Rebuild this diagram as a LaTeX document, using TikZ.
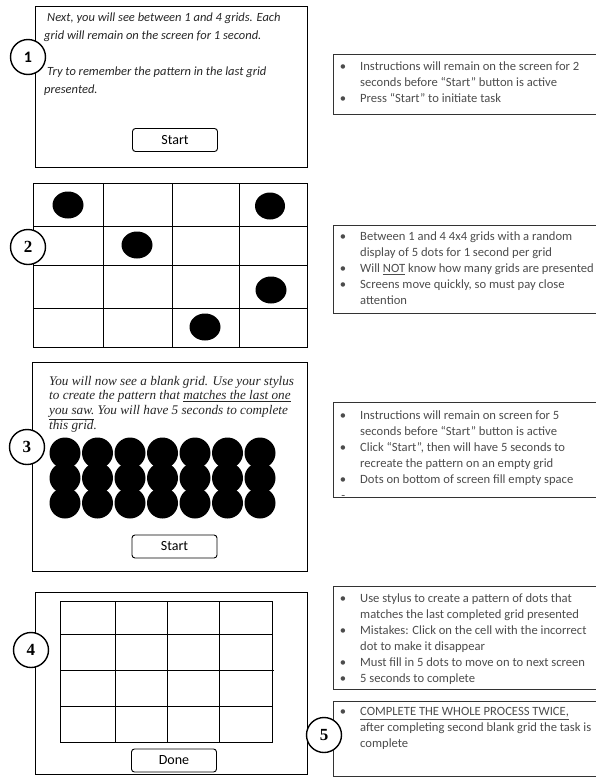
\documentclass[tikz,border=0pt]{standalone}
\usepackage{fontspec}
\setmainfont{Carlito}
\newfontfamily\cambria{Liberation Serif}

\tikzset{
  panel/.style={draw, line width=1pt},
  notebox/.style={draw=black!80, line width=0.9pt},
  screentext/.style={anchor=north west, inner sep=0pt, align=left, text=black!85},
  notetext/.style={anchor=north west, inner sep=0pt, align=left, text=black!70,
    font=\fontsize{12.6}{16}\selectfont},
  button/.style={draw, rounded corners=3pt, line width=0.9pt, minimum width=85pt,
    minimum height=23pt, inner sep=0pt, font=\fontsize{14}{16}\selectfont},
  numcircle/.style={draw, circle, line width=1.4pt, fill=white, minimum size=35pt,
    inner sep=0pt, font=\cambria\bfseries\fontsize{17}{18}\selectfont},
  gridline/.style={line width=1pt},
}

\begin{document}
\begin{tikzpicture}[x=1pt, y=-1pt]
    \useasboundingbox (0,0) rectangle (595,777);

    % Screen 1: instructions
    \draw[panel] (35,6) rectangle (307,167);
    \node[screentext, font=\itshape\fontsize{12.5}{18}\selectfont] (introtext) at (44,12.5)
      {\hspace{3pt}Next, you will see between 1 and 4 grids. Each\\
       grid will remain on the screen for 1 second.\\[18pt]
       \hspace{3pt}Try to remember the pattern in the last grid\\
       presented.};
    \node[button] (startone) at (175,140) {Start};
    \node[numcircle, font=\bfseries\fontsize{16}{18}\selectfont] (stepone) at (28,57) {1};

    \draw[notebox] (333,54) rectangle (600,114);
    \node[notetext] (noteone) at (360,61.5)
      {\llap{\textbullet\hspace{14pt}}Instructions will remain on the screen for 2\\
       seconds before ``Start'' button is active\\
       \llap{\textbullet\hspace{14pt}}Press ``Start'' to initiate task};

    % Screen 2: grid with dots
    \draw[gridline] (33,183) rectangle (307,347);
    \draw[gridline] (103,183) -- (103,347);
    \draw[gridline] (172,183) -- (172,347);
    \draw[gridline] (239,183) -- (239,347);
    \draw[gridline] (33,226) -- (307,226);
    \draw[gridline] (33,265) -- (307,265);
    \draw[gridline] (33,308) -- (307,308);
    \fill (68,205) ellipse (15.5 and 13.5);
    \fill (270,206) ellipse (15 and 13.5);
    \fill (137,245) ellipse (15.5 and 13.5);
    \fill (271,290) ellipse (15.5 and 13.5);
    \fill (205,327) ellipse (15.5 and 13.5);
    \node[numcircle] (steptwo) at (28,247) {2};

    \draw[notebox] (333,225) rectangle (600,313);
    \node[notetext] (notetwo) at (360,231.5)
      {\llap{\textbullet\hspace{14pt}}Between 1 and 4 4x4 grids with a random\\
       display of 5 dots for 1 second per grid\\
       \llap{\textbullet\hspace{14pt}}Will \underline{NOT} know how many grids are presented\\
       \llap{\textbullet\hspace{14pt}}Screens move quickly, so must pay close\\
       attention};

    % Screen 3: blank grid instructions
    \draw[panel] (32,362) rectangle (307,571);
    \node[screentext, font=\cambria\itshape\fontsize{13.2}{14.6}\selectfont] (recalltext) at (49,376)
      {You will now see a blank grid. Use your stylus\\
       to create the pattern that \underline{matches the last one}\\
       \underline{you saw.} You will have 5 seconds to complete\\
       this grid.};
    \fill (65,453) circle (15.5) (97.5,453) circle (15.5) (130,453) circle (15.5)
      (162.5,453) circle (15.5) (195,453) circle (15.5) (227.5,453) circle (15.5)
      (260,453) circle (15.5);
    \fill (65,478) circle (15.5) (97.5,478) circle (15.5) (130,478) circle (15.5)
      (162.5,478) circle (15.5) (195,478) circle (15.5) (227.5,478) circle (15.5)
      (260,478) circle (15.5);
    \fill (65,503) circle (15.5) (97.5,503) circle (15.5) (130,503) circle (15.5)
      (162.5,503) circle (15.5) (195,503) circle (15.5) (227.5,503) circle (15.5)
      (260,503) circle (15.5);
    \node[button] (starttwo) at (174.5,546.5) {Start};
    \node[numcircle] (stepthree) at (27,447) {3};

    \draw[notebox] (333,402) rectangle (600,497);
    \node[notetext] (notethree) at (360,410.5)
      {\llap{\textbullet\hspace{14pt}}Instructions will remain on screen for 5\\
       seconds before ``Start'' button is active\\
       \llap{\textbullet\hspace{14pt}}Click ``Start'', then will have 5 seconds to\\
       recreate the pattern on an empty grid\\
       \llap{\textbullet\hspace{14pt}}Dots on bottom of screen fill empty space\\
       \llap{-\hspace{15pt}}};

    % Screen 4: empty grid
    \draw[panel] (35,592) rectangle (307,774);
    \draw[gridline] (60,601) rectangle (272,742);
    \draw[gridline] (115,601) -- (115,742);
    \draw[gridline] (167,601) -- (167,742);
    \draw[gridline] (219,601) -- (219,742);
    \draw[gridline] (60,634) -- (272,634);
    \draw[gridline] (60,670) -- (274,670);
    \draw[gridline] (60,706) -- (272,706);
    \node[button] (done) at (174,760.5) {Done};
    \node[numcircle] (stepfour) at (31,650) {4};

    \draw[notebox] (333,586) rectangle (600,689);
    \node[notetext] (notefour) at (360,593.5)
      {\llap{\textbullet\hspace{14pt}}Use stylus to create a pattern of dots that\\
       matches the last completed grid presented\\
       \llap{\textbullet\hspace{14pt}}Mistakes: Click on the cell with the incorrect\\
       dot to make it disappear\\
       \llap{\textbullet\hspace{14pt}}Must fill in 5 dots to move on to next screen\\
       \llap{\textbullet\hspace{14pt}}5 seconds to complete};

    % Step 5: repeat
    \draw[notebox] (333,701) rectangle (600,776);
    \node[notetext] (notefive) at (360,707.5)
      {\llap{\textbullet\hspace{14pt}}\underline{COMPLETE THE WHOLE PROCESS TWICE,}\\
       after completing second blank grid the task is\\
       complete};
    \node[numcircle] (stepfive) at (324,735) {5};
\end{tikzpicture}
\end{document}
